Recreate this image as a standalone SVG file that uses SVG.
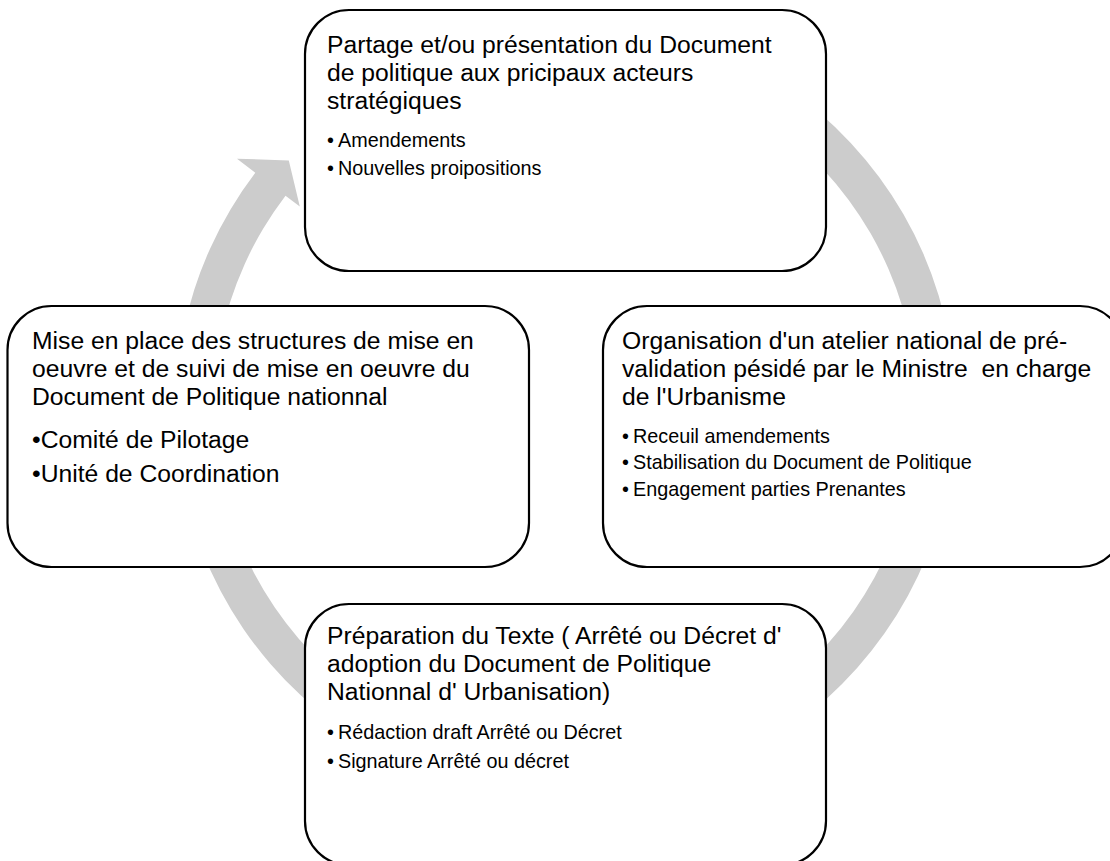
<svg xmlns="http://www.w3.org/2000/svg" width="1110" height="861" viewBox="0 0 1110 861">
<style>
.box{fill:#ffffff;stroke:#000000;stroke-width:2.2}
.t{font-family:"Liberation Sans",Arial,sans-serif;font-size:24.7px;fill:#000000}
.b{font-size:19.8px}
.ring{fill:#cccccc;stroke:none}
</style>
<rect width="1110" height="861" fill="#ffffff"/>
<g id="connectors">
<path class="ring" d="M531.51,20.49 A390,390 0 1 1 255.3,172.7 L237.0,158.7 L288.8,160.4 L299.8,206.6 L285.5,195.7 A352,352 0 1 0 534.82,58.34 Z"/>
</g>
<g id="node-top">
<rect class="box" x="305" y="10" width="521" height="261" rx="44" ry="44"/>
<text class="t"><tspan x="327" y="53">Partage et/ou présentation du Document</tspan><tspan x="327" y="81">de politique aux pricipaux acteurs</tspan><tspan x="327" y="109">stratégiques</tspan><tspan class="b" x="327" y="147">•</tspan><tspan class="b" x="338" y="147">Amendements</tspan><tspan class="b" x="327" y="175">•</tspan><tspan class="b" x="338" y="175">Nouvelles proipositions</tspan></text>
</g>
<g id="node-left">
<rect class="box" x="7.5" y="306" width="521.5" height="261" rx="44" ry="44"/>
<text class="t"><tspan x="32" y="349">Mise en place des structures de mise en</tspan><tspan x="32" y="377">oeuvre et de suivi de mise en oeuvre du</tspan><tspan x="32" y="405">Document de Politique nationnal</tspan><tspan x="32" y="448">•Comité de Pilotage</tspan><tspan x="32" y="482">•Unité de Coordination</tspan></text>
</g>
<g id="node-right">
<rect class="box" x="603" y="306" width="521" height="261" rx="44" ry="44"/>
<text class="t" xml:space="preserve"><tspan x="622" y="349">Organisation d'un atelier national de pré-</tspan><tspan x="622" y="377">validation pésidé par le Ministre  en charge</tspan><tspan x="622" y="405">de l'Urbanisme</tspan><tspan class="b" x="622" y="443">•</tspan><tspan class="b" x="633" y="443">Receuil amendements</tspan><tspan class="b" x="622" y="469">•</tspan><tspan class="b" x="633" y="469">Stabilisation du Document de Politique</tspan><tspan class="b" x="622" y="496">•</tspan><tspan class="b" x="633" y="496">Engagement parties Prenantes</tspan></text>
</g>
<g id="node-bottom">
<rect class="box" x="305" y="604" width="521" height="261" rx="44" ry="44"/>
<text class="t"><tspan x="327" y="644">Préparation du Texte ( Arrêté ou Décret d'</tspan><tspan x="327" y="672">adoption du Document de Politique</tspan><tspan x="327" y="700">Nationnal d' Urbanisation)</tspan><tspan class="b" x="327" y="739">•</tspan><tspan class="b" x="338" y="739">Rédaction draft Arrêté ou Décret</tspan><tspan class="b" x="327" y="768">•</tspan><tspan class="b" x="338" y="768">Signature Arrêté ou décret</tspan></text>
</g>
</svg>
